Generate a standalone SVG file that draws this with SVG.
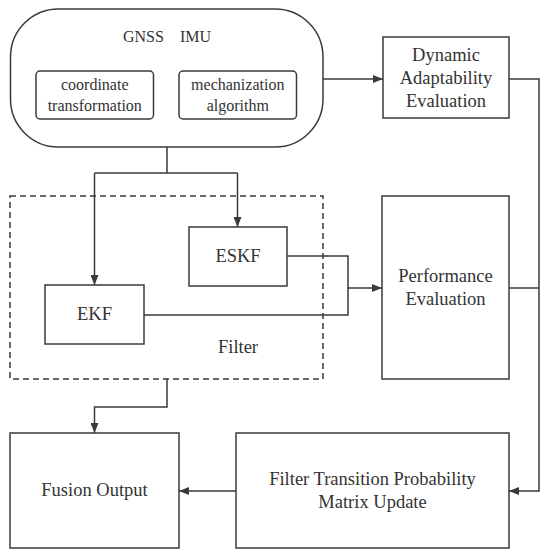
<svg xmlns="http://www.w3.org/2000/svg" width="550" height="560" viewBox="0 0 550 560">
<style>
.box{fill:#fff;stroke:#3a3a3a;stroke-width:1.5}
.dash{fill:none;stroke:#3a3a3a;stroke-width:1.5;stroke-dasharray:6 4}
.ln{fill:none;stroke:#3a3a3a;stroke-width:1.5}
text{font-family:'Liberation Serif','Times New Roman','DejaVu Serif',serif;fill:#333;text-anchor:middle}
.t{font-size:18.5px}
.s{font-size:16px}
</style>
<defs>
<marker id="ah" markerWidth="10" markerHeight="8" refX="10" refY="4" orient="auto" markerUnits="userSpaceOnUse">
<path d="M0,0 L10,4 L0,8 Z" fill="#3a3a3a"/>
</marker>
</defs>
<rect width="550" height="560" fill="#fff"/>
<g id="filter-group">
<rect class="dash" x="10" y="196" width="313" height="183"/>
<text class="t" x="238" y="353" font-family="Liberation Serif">Filter</text>
</g>
<g id="gnss-imu">
<rect class="box" x="10.5" y="9" width="312.5" height="138" rx="48" ry="48"/>
<text class="s" x="123" y="42" style="text-anchor:start">GNSS<tspan x="180">IMU</tspan></text>
</g>
<g id="coord">
<rect class="box" x="36" y="71" width="117.5" height="48" rx="4"/>
<text class="s" x="94.75" y="90">coordinate</text>
<text class="s" x="94.75" y="111">transformation</text>
</g>
<g id="mech">
<rect class="box" x="179" y="71" width="117.5" height="48" rx="4"/>
<text class="s" x="237.75" y="90">mechanization</text>
<text class="s" x="237.75" y="111">algorithm</text>
</g>
<g id="dynamic">
<rect class="box" x="383" y="37" width="126" height="81"/>
<text class="t" x="446" y="61">Dynamic</text>
<text class="t" x="446" y="84">Adaptability</text>
<text class="t" x="446" y="107">Evaluation</text>
</g>
<g id="eskf">
<rect class="box" x="189" y="227" width="98" height="59"/>
<text class="t" x="238" y="262">ESKF</text>
</g>
<g id="ekf">
<rect class="box" x="45" y="285" width="99" height="59"/>
<text class="t" x="94.5" y="320">EKF</text>
</g>
<g id="performance">
<rect class="box" x="382" y="196" width="127" height="183"/>
<text class="t" x="445.5" y="282">Performance</text>
<text class="t" x="445.5" y="305">Evaluation</text>
</g>
<g id="fusion">
<rect class="box" x="10" y="433" width="169" height="115"/>
<text class="t" x="94.5" y="496">Fusion Output</text>
</g>
<g id="ftpmu">
<rect class="box" x="236" y="433" width="273" height="115"/>
<text class="t" x="372.5" y="485">Filter Transition Probability</text>
<text class="t" x="372.5" y="508">Matrix Update</text>
</g>
<g id="connectors">
<path class="ln" d="M323,79 H383" marker-end="url(#ah)"/>
<path class="ln" d="M167,147 V173"/>
<path class="ln" d="M94.5,173 H237.5"/>
<path class="ln" d="M94.5,173 V285" marker-end="url(#ah)"/>
<path class="ln" d="M237.5,173 V227" marker-end="url(#ah)"/>
<path class="ln" d="M287,256 H348 V315 H144"/>
<path class="ln" d="M348,288 H382" marker-end="url(#ah)"/>
<path class="ln" d="M509,79 H539 V491 H509" marker-end="url(#ah)"/>
<path class="ln" d="M509,288 H539"/>
<path class="ln" d="M167,379 V407 H94.5 V433" marker-end="url(#ah)"/>
<path class="ln" d="M236,491 H179" marker-end="url(#ah)"/>
</g>
</svg>
